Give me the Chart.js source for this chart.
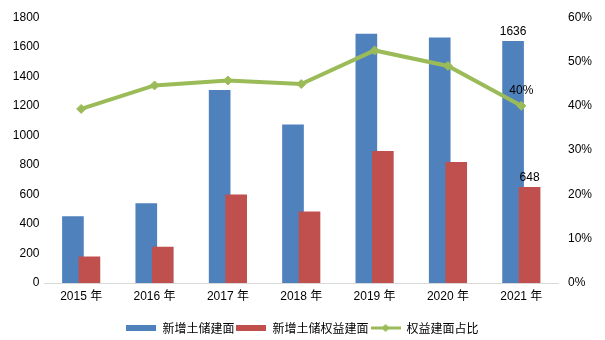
<!DOCTYPE html>
<html>
<head>
<meta charset="utf-8">
<script src="https://cdn.jsdelivr.net/npm/chart.js@4/dist/chart.umd.min.js"></script>
<style>
  html, body { margin: 0; padding: 0; background: #fff; }
  #wrap { width: 605px; height: 340px; }
</style>
</head>
<body>
<div id="wrap"><canvas id="chart-land"></canvas></div>
<script>
var years = ['2015 年', '2016 年', '2017 年', '2018 年', '2019 年', '2020 年', '2021 年'];
var newArea = [450, 538, 1305, 1071, 1686, 1661, 1636];
var equityArea = [178, 244, 597, 482, 891, 817, 648];
var equityShare = [39.3, 44.6, 45.7, 44.9, 52.5, 49.0, 40];
var leftTicks = [0, 200, 400, 600, 800, 1000, 1200, 1400, 1600, 1800];
var rightTicks = [0, 10, 20, 30, 40, 50, 60];

var blue = '#4F81BD';
var red = '#C0504D';
var green = '#9BBB59';
var tickFont = { family: "'Liberation Sans', Arial, 'Noto Sans CJK SC', sans-serif", size: 12 };

// small swatches for the legend
function swatch(kind, color) {
    var c = document.createElement('canvas');
    c.width = 30;
    c.height = 10;
    var g = c.getContext('2d');
    if (kind == 'bar') {
        g.fillStyle = color;
        g.fillRect(0, 2, 30, 6);
    } else {
        g.strokeStyle = color;
        g.lineWidth = 3;
        g.beginPath();
        g.moveTo(0, 5);
        g.lineTo(30, 5);
        g.stroke();
        g.fillStyle = color;
        g.beginPath();
        g.moveTo(15, 1);
        g.lineTo(19, 5);
        g.lineTo(15, 9);
        g.lineTo(11, 5);
        g.closePath();
        g.fill();
    }
    return c;
}

// excel style bars: the two columns overlap a little
var overlapBars = {
    id: 'overlapBars',
    afterDatasetsUpdate: function (chart) {
        var xs = chart.scales.x;
        var shifts = [-8.25, 8.25];
        [0, 1].forEach(function (d) {
            chart.getDatasetMeta(d).data.forEach(function (el, i) {
                el.x = xs.getPixelForValue(i) + shifts[d];
            });
        });
    }
};

// value labels on the last year
var lastLabels = {
    id: 'lastLabels',
    afterDatasetsDraw: function (chart) {
        var ctx = chart.ctx;
        var last = years.length - 1;
        ctx.save();
        ctx.font = "12px 'Liberation Sans', Arial, sans-serif";
        ctx.fillStyle = '#000';
        ctx.textAlign = 'center';
        ctx.textBaseline = 'bottom';
        var b = chart.getDatasetMeta(0).data[last];
        ctx.fillText(String(newArea[last]), b.x, b.y - 4);
        var r = chart.getDatasetMeta(1).data[last];
        ctx.fillText(String(equityArea[last]), r.x, r.y - 4);
        var p = chart.getDatasetMeta(2).data[last];
        ctx.fillText(Math.round(equityShare[last]) + '%', p.x, p.y - 9);
        ctx.restore();
    }
};

var ctxLand = document.getElementById('chart-land').getContext('2d');
var myChartLand = new Chart(ctxLand, {
    type: 'bar',
    data: {
        labels: years,
        datasets: [{
            label: '新增土储建面',
            data: newArea,
            backgroundColor: blue,
            barThickness: 21,
            order: 2,
            yAxisID: 'y'
        }, {
            label: '新增土储权益建面',
            data: equityArea,
            backgroundColor: red,
            barThickness: 21,
            order: 1,
            yAxisID: 'y'
        }, {
            type: 'line',
            label: '权益建面占比',
            data: equityShare,
            borderColor: green,
            backgroundColor: green,
            borderWidth: 4,
            tension: 0,
            pointStyle: 'rectRot',
            pointRadius: 4.5,
            pointBorderWidth: 1,
            order: 0,
            yAxisID: 'y1'
        }]
    },
    plugins: [overlapBars, lastLabels],
    options: {
        responsive: true,
        maintainAspectRatio: false,
        animation: false,
        devicePixelRatio: 1,
        layout: { padding: { top: 5, left: 0, right: 0, bottom: -4 } },
        plugins: {
            tooltip: { enabled: false },
            legend: {
                position: 'bottom',
                labels: {
                    usePointStyle: true,
                    pointStyleWidth: 30,
                    boxHeight: 10,
                    padding: 2,
                    color: '#000',
                    font: { family: "'Noto Sans CJK SC', sans-serif", size: 12 },
                    generateLabels: function (chart) {
                        var kinds = ['bar', 'bar', 'line'];
                        var cols = [blue, red, green];
                        return chart.data.datasets.map(function (ds, i) {
                            return {
                                text: ds.label,
                                fillStyle: cols[i],
                                strokeStyle: cols[i],
                                lineWidth: 0,
                                pointStyle: swatch(kinds[i], cols[i]),
                                datasetIndex: i,
                                hidden: false
                            };
                        });
                    }
                }
            }
        },
        scales: {
            x: {
                grid: { display: false, drawTicks: false },
                border: { display: true, color: '#d9d9d9', width: 1 },
                ticks: { color: '#000', font: tickFont, padding: 6, maxRotation: 0 },
                afterFit: function (s) { s.height = 37; }
            },
            y: {
                position: 'left',
                min: 0,
                max: 1800,
                afterBuildTicks: function (s) { s.ticks = leftTicks.map(function (v) { return { value: v }; }); },
                grid: { display: false, drawTicks: false },
                border: { display: false },
                ticks: {
                    color: '#000',
                    font: tickFont,
                    padding: 5,
                    callback: function (v) { return String(v); }
                },
                afterFit: function (s) { s.width = 44.5; }
            },
            y1: {
                position: 'right',
                min: 0,
                max: 60,
                afterBuildTicks: function (s) { s.ticks = rightTicks.map(function (v) { return { value: v }; }); },
                grid: { display: false, drawTicks: false },
                border: { display: false },
                ticks: {
                    color: '#000',
                    font: tickFont,
                    padding: 10,
                    callback: function (v) { return v + '%'; }
                },
                afterFit: function (s) { s.width = 47; }
            }
        }
    }
});
</script>
</body>
</html>
